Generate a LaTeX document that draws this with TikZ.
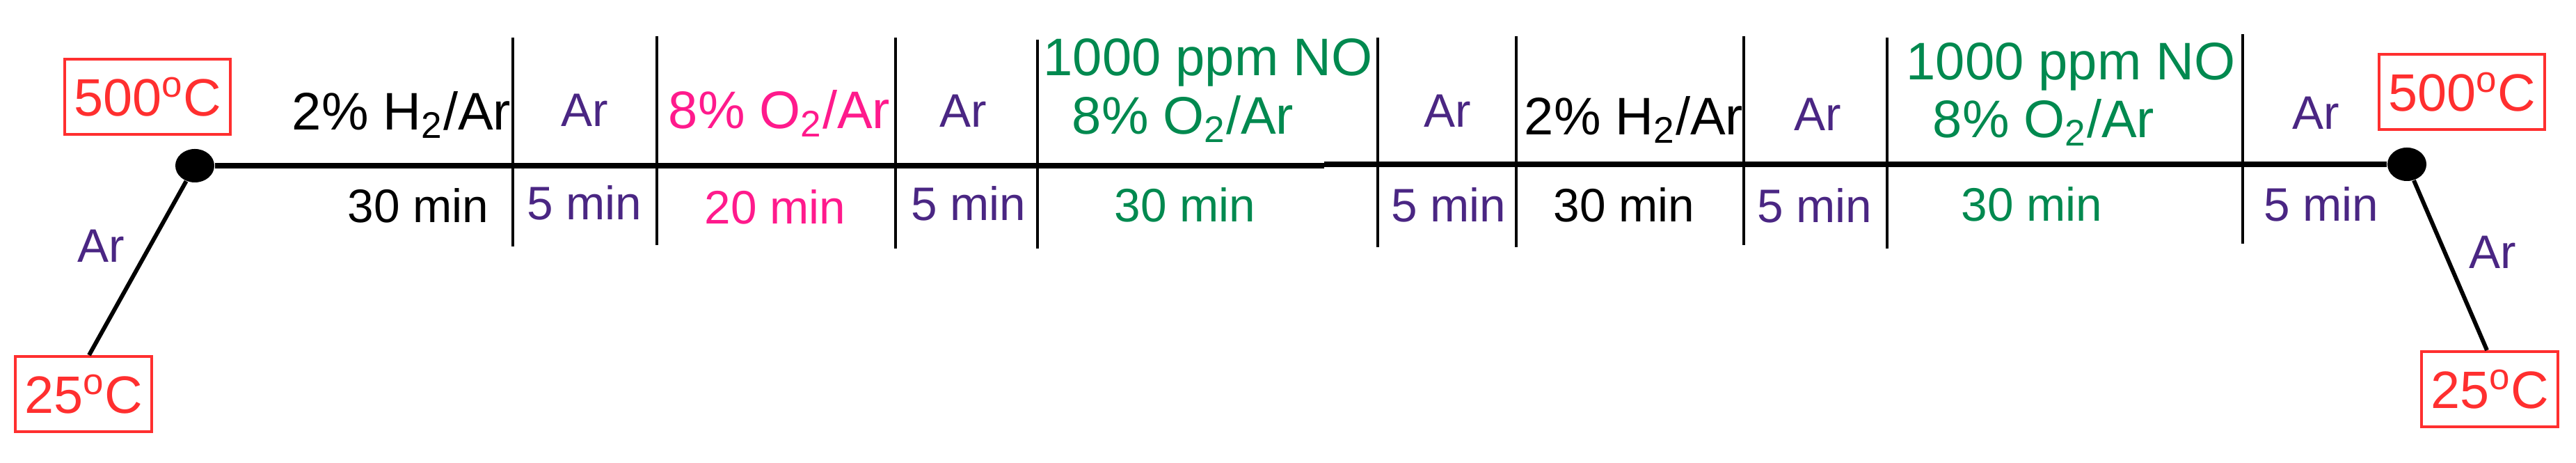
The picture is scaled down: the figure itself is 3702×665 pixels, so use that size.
\documentclass[tikz,border=0pt]{standalone}
\usepackage{fontspec}
\setmainfont{Liberation Sans}
\usepackage{xcolor}
\usetikzlibrary{shapes.geometric}
\definecolor{tempred}{HTML}{FF2F2F}
\definecolor{argon}{HTML}{4A2683}
\definecolor{oxygen}{HTML}{FF1A8C}
\definecolor{nitric}{HTML}{00894F}

\tikzset{
    gaslabel/.style = {anchor = base, inner sep = 0pt, font = \fontsize{21.6}{26}\selectfont},
    timelabel/.style = {anchor = base, inner sep = 0pt, font = \fontsize{19.2}{23}\selectfont},
    tempbox/.style = {draw = tempred, text = tempred, line width = 1.1pt, minimum height = 1.08cm, inner xsep = 0.13cm, font = \fontsize{21.5}{26}\selectfont},
    tempdot/.style = {ellipse, fill = black, inner sep = 0pt, minimum width = 0.56cm, minimum height = 0.48cm},
    holdline/.style = {line width = 2.3pt},
    rampline/.style = {line width = 1.7pt},
    divider/.style = {line width = 1pt}
}

\begin{document}
\begin{tikzpicture}[x = 0.01cm, y = -0.01cm]
        \useasboundingbox (0, 0) rectangle (3702, 665);

        % Nodes
        \node [tempbox] (highL) at (212, 139) {500\textsuperscript{o}C};
        \node [tempbox] (lowL) at (120, 566) {25\textsuperscript{o}C};
        \node [tempbox] (highR) at (3538, 132) {500\textsuperscript{o}C};
        \node [tempbox] (lowR) at (3578, 559) {25\textsuperscript{o}C};
        \node [tempdot] (dotL) at (280, 238) {};
        \node [tempdot] (dotR) at (3459, 236) {};
        \coordinate (kinkL) at (1903, 238);
        \coordinate (kinkR) at (1903, 236);

        % Draw the links
        \draw [holdline] (dotL) -- (kinkL);
        \draw [holdline] (kinkR) -- (dotR);
        \draw [rampline] (dotL) -- ([xshift = 0.08cm] lowL.north);
        \draw [rampline] (dotR) -- ([xshift = -0.04cm] lowR.north);
        \node [timelabel, text = argon] (rampL) at (145, 377) {Ar};
        \node [timelabel, text = argon] (rampR) at (3582, 386) {Ar};

        % Step borders
        \draw [divider] (737, 54) -- (737, 354);
        \draw [divider] (944, 52) -- (944, 352);
        \draw [divider] (1287, 54) -- (1287, 357);
        \draw [divider] (1491, 57) -- (1491, 357);
        \draw [divider] (1980, 54) -- (1980, 355);
        \draw [divider] (2179, 52) -- (2179, 355);
        \draw [divider] (2506, 52) -- (2506, 352);
        \draw [divider] (2712, 54) -- (2712, 357);
        \draw [divider] (3223, 49) -- (3223, 350);

        % Gas of each step
        \node [gaslabel] (gas1) at (577, 187) {2\% H\textsubscript{2}/Ar};
        \node [timelabel, text = argon] (gas2) at (840, 182) {Ar};
        \node [gaslabel, text = oxygen] (gas3) at (1120, 185) {8\% O\textsubscript{2}/Ar};
        \node [timelabel, text = argon] (gas4) at (1384, 183) {Ar};
        \node [gaslabel, text = nitric] (gas5a) at (1736, 109) {1000 ppm NO};
        \node [gaslabel, text = nitric] (gas5b) at (1700, 193) {8\% O\textsubscript{2}/Ar};
        \node [timelabel, text = argon] (gas6) at (2080, 183) {Ar};
        \node [gaslabel] (gas7) at (2348, 194) {2\% H\textsubscript{2}/Ar};
        \node [timelabel, text = argon] (gas8) at (2612, 188) {Ar};
        \node [gaslabel, text = nitric] (gas9a) at (2976, 115) {1000 ppm NO};
        \node [gaslabel, text = nitric] (gas9b) at (2937, 198) {8\% O\textsubscript{2}/Ar};
        \node [timelabel, text = argon] (gas10) at (3328, 186) {Ar};

        % Time of each step
        \node [timelabel] (time1) at (601, 320) {30 min};
        \node [timelabel, text = argon] (time2) at (840, 316) {5 min};
        \node [timelabel, text = oxygen] (time3) at (1114, 322) {20 min};
        \node [timelabel, text = argon] (time4) at (1392, 317) {5 min};
        \node [timelabel, text = nitric] (time5) at (1703, 319) {30 min};
        \node [timelabel, text = argon] (time6) at (2082, 319) {5 min};
        \node [timelabel] (time7) at (2334, 319) {30 min};
        \node [timelabel, text = argon] (time8) at (2608, 320) {5 min};
        \node [timelabel, text = nitric] (time9) at (2920, 318) {30 min};
        \node [timelabel, text = argon] (time10) at (3336, 318) {5 min};

    \end{tikzpicture}
\end{document}
